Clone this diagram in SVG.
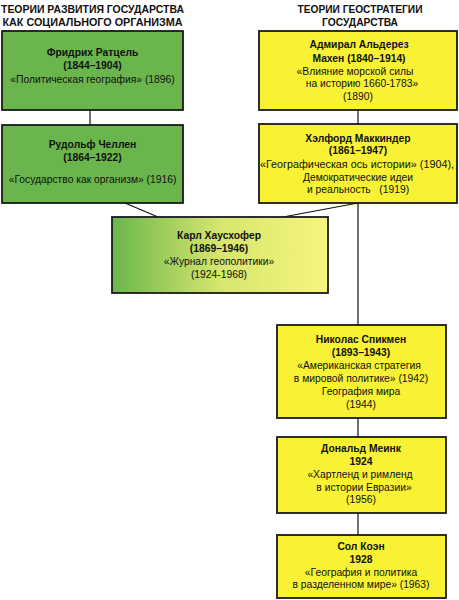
<svg xmlns="http://www.w3.org/2000/svg" width="459" height="600" viewBox="0 0 459 600">
<defs>
<linearGradient id="gh" x1="0" y1="0" x2="1" y2="0">
<stop offset="0" stop-color="#6ab64c"/>
<stop offset="0.5" stop-color="#d6e66e"/>
<stop offset="1" stop-color="#f7f57c"/>
</linearGradient>
</defs>
<style>
text{font-family:"Liberation Sans",Arial,sans-serif;font-size:10.3px;fill:#111;text-anchor:middle}
.b{font-weight:bold}
.h{font-weight:bold;font-size:10.3px}
.box{stroke:#1a1a1a;stroke-width:1.8}
.g{fill:#6ab64c}
.y{fill:#f8f134}
.c{stroke:#111;stroke-width:1.2;fill:none}
</style>
<rect width="459" height="600" fill="#fff"/>
<g id="headers">
<text class="h" x="92.5" y="13" textLength="183" lengthAdjust="spacingAndGlyphs">ТЕОРИИ РАЗВИТИЯ ГОСУДАРСТВА</text>
<text class="h" x="92.5" y="26" textLength="180" lengthAdjust="spacingAndGlyphs">КАК СОЦИАЛЬНОГО ОРГАНИЗМА</text>
<text class="h" x="360" y="13" textLength="125" lengthAdjust="spacingAndGlyphs">ТЕОРИИ ГЕОСТРАТЕГИИ</text>
<text class="h" x="360" y="26" textLength="76" lengthAdjust="spacingAndGlyphs">ГОСУДАРСТВА</text>
</g>
<g id="connectors">
<line class="c" x1="90" y1="110" x2="90" y2="125"/>
<line class="c" x1="125" y1="203" x2="158" y2="217"/>
<line class="c" x1="358" y1="110" x2="358" y2="124"/>
<line class="c" x1="358" y1="203" x2="283" y2="217"/>
<line class="c" x1="358" y1="203" x2="358" y2="325"/>
<line class="c" x1="358" y1="418" x2="358" y2="437"/>
<line class="c" x1="358" y1="513" x2="358" y2="535"/>
</g>
<g id="ratzel">
<rect class="box g" x="2" y="31" width="181" height="79"/>
<text class="b" x="92.5" y="56">Фридрих Ратцель</text>
<text class="b" x="92.5" y="69">(1844–1904)</text>
<text x="92.5" y="83">«Политическая география» (1896)</text>
</g>
<g id="kjellen">
<rect class="box g" x="2" y="125" width="181" height="78"/>
<text class="b" x="92.5" y="148">Рудольф Челлен</text>
<text class="b" x="92.5" y="161">(1864–1922)</text>
<text x="92.5" y="183">«Государство как организм» (1916)</text>
</g>
<g id="mahan">
<rect class="box y" x="259" y="31" width="198" height="79"/>
<text class="b" x="359" y="48">Адмирал Альдерез</text>
<text class="b" x="359" y="62">Махен (1840–1914)</text>
<text x="355" y="75">«Влияние морской силы</text>
<text x="362" y="87">на историю 1660-1783»</text>
<text x="358" y="100">(1890)</text>
</g>
<g id="mackinder">
<rect class="box y" x="259" y="124" width="198" height="79"/>
<text class="b" x="358" y="142">Хэлфорд Маккиндер</text>
<text class="b" x="358" y="154">(1861–1947)</text>
<text x="357" y="168" textLength="194" lengthAdjust="spacingAndGlyphs">«Географическая ось истории» (1904),</text>
<text x="358" y="181">Демократические идеи</text>
<text x="358" y="193" xml:space="preserve">и реальность   (1919)</text>
</g>
<g id="haushofer">
<rect class="box" fill="url(#gh)" x="112" y="217" width="216" height="76"/>
<text class="b" x="219" y="239">Карл Хаусхофер</text>
<text class="b" x="219" y="252">(1869–1946)</text>
<text x="219" y="265">«Журнал геополитики»</text>
<text x="219" y="278">(1924-1968)</text>
</g>
<g id="spykman">
<rect class="box y" x="277" y="325" width="169" height="93"/>
<text class="b" x="361" y="343">Николас Спикмен</text>
<text class="b" x="361" y="356">(1893–1943)</text>
<text x="359" y="369">«Американская стратегия</text>
<text x="361" y="382">в мировой политике» (1942)</text>
<text x="361" y="395">География мира</text>
<text x="361" y="408">(1944)</text>
</g>
<g id="meinig">
<rect class="box y" x="277" y="437" width="169" height="76"/>
<text class="b" x="361" y="452">Дональд Меинк</text>
<text class="b" x="361" y="465">1924</text>
<text x="360" y="478">«Хартленд и римленд</text>
<text x="364" y="491">в истории Евразии»</text>
<text x="361" y="503">(1956)</text>
</g>
<g id="cohen">
<rect class="box y" x="277" y="535" width="169" height="63"/>
<text class="b" x="361" y="550">Сол Коэн</text>
<text class="b" x="361" y="563">1928</text>
<text x="361" y="576">«География и политика</text>
<text x="361" y="588">в разделенном мире» (1963)</text>
</g>
</svg>
